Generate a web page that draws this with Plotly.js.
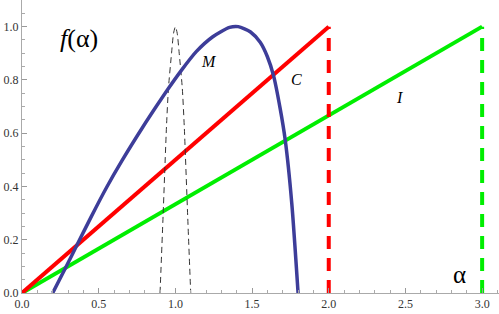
<!DOCTYPE html>
<html>
<head>
<meta charset="utf-8">
<script src="https://cdn.plot.ly/plotly-3.0.1.min.js"></script>
<style>html,body{margin:0;padding:0;background:#fff;}#chart{width:499px;height:314px;}</style>
</head>
<body>
<div id="chart"></div>
<script>
// Curve M (multifractal spectrum)
var mAlpha = [0.2, 0.28, 0.36, 0.45, 0.553, 0.65, 0.791, 0.875, 0.951, 1.038, 1.136, 1.244, 1.353, 1.41, 1.49, 1.553, 1.6, 1.64, 1.683, 1.716, 1.759, 1.8];
var mF     = [0, 0.09, 0.182, 0.285, 0.398, 0.495, 0.626, 0.700, 0.765, 0.835, 0.906, 0.962, 0.997, 1.0, 0.98, 0.941, 0.887, 0.816, 0.693, 0.575, 0.336, 0];
// Narrow dashed spectrum
var nAlpha = [0.9, 0.92, 0.942, 0.955, 0.975, 0.988, 1.0, 1.012, 1.025, 1.045, 1.058, 1.08, 1.1];
var nF     = [0, 0.292, 0.625, 0.77, 0.9, 0.975, 1.0, 0.975, 0.9, 0.77, 0.625, 0.292, 0];
// Line C
var cAlpha = [0, 2];
var cF     = [0, 1];
var cCutAlpha = [2, 2];
var cCutF     = [0, 1];
// Line I
var iAlpha = [0, 3];
var iF     = [0, 1];
var iCutAlpha = [3, 3];
var iCutF     = [0, 1];
// Axis ticks
var xTicks = [0, 0.5, 1.0, 1.5, 2.0, 2.5, 3.0];
var yTicks = [0, 0.2, 0.4, 0.6, 0.8, 1.0];

var blue = '#3d3d99', red = '#ff0000', green = '#00ee00';
var serif = 'Liberation Serif';

var traces = [
  {x: iAlpha, y: iF, mode: 'lines', line: {color: green, width: 4}},
  {x: iCutAlpha, y: iCutF, mode: 'lines', line: {color: green, width: 4, dash: '13px,9px'}},
  {x: cAlpha, y: cF, mode: 'lines', line: {color: red, width: 4}},
  {x: cCutAlpha, y: cCutF, mode: 'lines', line: {color: red, width: 4, dash: '13px,9px'}},
  {x: nAlpha, y: nF, mode: 'lines', line: {color: '#333', width: 1, dash: '6px,4px', shape: 'spline', smoothing: 0.6}},
  {x: mAlpha, y: mF, mode: 'lines', line: {color: blue, width: 3.5, shape: 'spline', smoothing: 0.7}}
];

var layout = {
  width: 499, height: 314,
  margin: {l: 22, r: 0, t: 0, b: 21, pad: 0},
  paper_bgcolor: '#fff', plot_bgcolor: '#fff',
  showlegend: false,
  font: {family: serif, size: 12, color: '#333'},
  xaxis: {
    showgrid: false, zeroline: false, showline: true, linecolor: '#aaaaaa', linewidth: 1,
    ticks: 'inside', ticklen: 5, tickcolor: '#999999', tickwidth: 1,
    tickfont: {family: serif, size: 12, color: '#333'}, tickformat: '.1f',
    range: [0, 3.11], tickvals: xTicks,
    minor: {dtick: 0.1, tick0: 0, ticks: 'inside', ticklen: 3, tickcolor: '#aaaaaa', showgrid: false}
  },
  yaxis: {
    showgrid: false, zeroline: false, showline: true, linecolor: '#aaaaaa', linewidth: 1,
    ticks: 'inside', ticklen: 5, tickcolor: '#999999', tickwidth: 1,
    tickfont: {family: serif, size: 12, color: '#333'}, tickformat: '.1f',
    range: [0, 1.1], tickvals: yTicks,
    minor: {dtick: 0.05, tick0: 0, ticks: 'inside', ticklen: 3, tickcolor: '#aaaaaa', showgrid: false}
  },
  annotations: [
    {x: 0.372, y: 0.955, xref: 'x', yref: 'y', text: '<i>f</i>(α)', showarrow: false,
     font: {family: serif, size: 26, color: '#000'}},
    {x: 1.216, y: 0.871, xref: 'x', yref: 'y', text: '<i>M</i>', showarrow: false,
     font: {family: serif, size: 16, color: '#000'}},
    {x: 1.79, y: 0.803, xref: 'x', yref: 'y', text: '<i>C</i>', showarrow: false,
     font: {family: serif, size: 16, color: '#000'}},
    {x: 2.461, y: 0.734, xref: 'x', yref: 'y', text: '<i>I</i>', showarrow: false,
     font: {family: serif, size: 16, color: '#000'}},
    {x: 2.85, y: 0.068, xref: 'x', yref: 'y', text: 'α', showarrow: false,
     font: {family: serif, size: 25, color: '#000'}}
  ]
};

Plotly.newPlot('chart', traces, layout, {staticPlot: true, displayModeBar: false});
</script>
</body>
</html>
